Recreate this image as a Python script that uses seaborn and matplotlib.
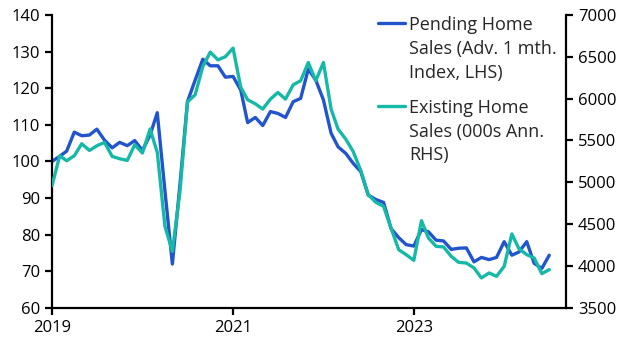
import pandas as pd
import numpy as np
import seaborn as sns
import matplotlib.pyplot as plt
import matplotlib.dates as mdates

# monthly, Jan 2019 - Jul 2024
dates = pd.date_range("2019-01-01", periods=67, freq="MS")

# Pending home sales index (adv. 1 month), LHS
pending = [100, 101.4, 102.8, 108, 107, 107.2, 108.8, 105.8, 103.7, 105.2, 104.3, 105.7,
           103, 107.2, 113.3, 92, 72, 94, 116.3, 122.2, 127.9, 126.1, 126.1, 123,
           123.2, 119.5, 110.6, 112, 109.8, 113.6, 113.1, 112, 116.3, 117.2, 125.2, 122.2,
           116.8, 107.7, 104, 102.2, 99.5, 97.2, 90.8, 89.6, 88.8, 81.7, 79.2, 77.3,
           76.9, 81.4, 80.8, 78.5, 78.3, 76, 76.3, 76.4, 72.6, 73.8, 73.2, 73.8,
           78.1, 74.4, 75.3, 78.1, 72.2, 70.8, 74.4]

# Existing home sales, 000s annualised, RHS
existing = [4960, 5318, 5258, 5318, 5461, 5381, 5437, 5477, 5310, 5282, 5262, 5449,
            5350, 5636, 5360, 4475, 4176, 4900, 5960, 6046, 6383, 6555, 6463, 6500,
            6603, 6137, 5986, 5938, 5875, 5994, 6073, 5994, 6165, 6213, 6431, 6213,
            6431, 5875, 5636, 5517, 5369, 5140, 4853, 4761, 4713, 4455, 4196, 4137,
            4069, 4542, 4336, 4236, 4229, 4117, 4045, 4037, 3978, 3859, 3918, 3878,
            3997, 4384, 4205, 4137, 4097, 3910, 3958]

year_ticks = ["2019", "2021", "2023"]

df = pd.DataFrame({"date": dates, "pending": pending, "existing": existing})

blue = "#2254cc"
teal = "#16b8a6"

sns.set_style("ticks")
plt.rcParams["font.family"] = ["Open Sans", "DejaVu Sans"]

fig = plt.figure(figsize=(6.29, 3.54), dpi=100)
ax = fig.add_axes([0.0827, 0.13, 0.8173, 0.828])
ax2 = ax.twinx()

sns.lineplot(data=df, x="date", y="pending", ax=ax, color=blue, lw=2.4)
sns.lineplot(data=df, x="date", y="existing", ax=ax2, color=teal, lw=2.4)

ax.set_ylim(60, 140)
ax.set_yticks(range(60, 141, 10))
ax2.set_ylim(3500, 7000)
ax2.set_yticks(range(3500, 7001, 500))
ax.set_xlim(pd.Timestamp("2019-01-01"), pd.Timestamp("2024-09-07"))
ax.set_xticks([pd.Timestamp(y + "-01-01") for y in year_ticks])
ax.xaxis.set_major_formatter(mdates.DateFormatter("%Y"))

for a in (ax, ax2):
    a.set_xlabel("")
    a.set_ylabel("")
    a.spines["top"].set_visible(False)
    for s in a.spines.values():
        s.set_linewidth(1.6)
        s.set_color("black")
    a.tick_params(length=5, width=1.6, labelsize=12, colors="black", direction="out")
ax2.spines["left"].set_visible(False)
ax2.spines["bottom"].set_visible(False)
ax.spines["right"].set_visible(False)

# legend drawn beside the lines, handle aligned to first text line
leg = [("Pending Home\nSales (Adv. 1 mth.\nIndex, LHS)", blue, 0.973),
       ("Existing Home\nSales (000s Ann.\nRHS)", teal, 0.69)]
for label, col, yy in leg:
    ax.plot([0.635, 0.686], [yy, yy], transform=ax.transAxes, color=col, lw=2.4, clip_on=False)
    ax.text(0.694, yy + 0.022, label, transform=ax.transAxes, fontsize=13,
            va="top", ha="left", linespacing=1.4)

fig.savefig("out.png", dpi=100)
